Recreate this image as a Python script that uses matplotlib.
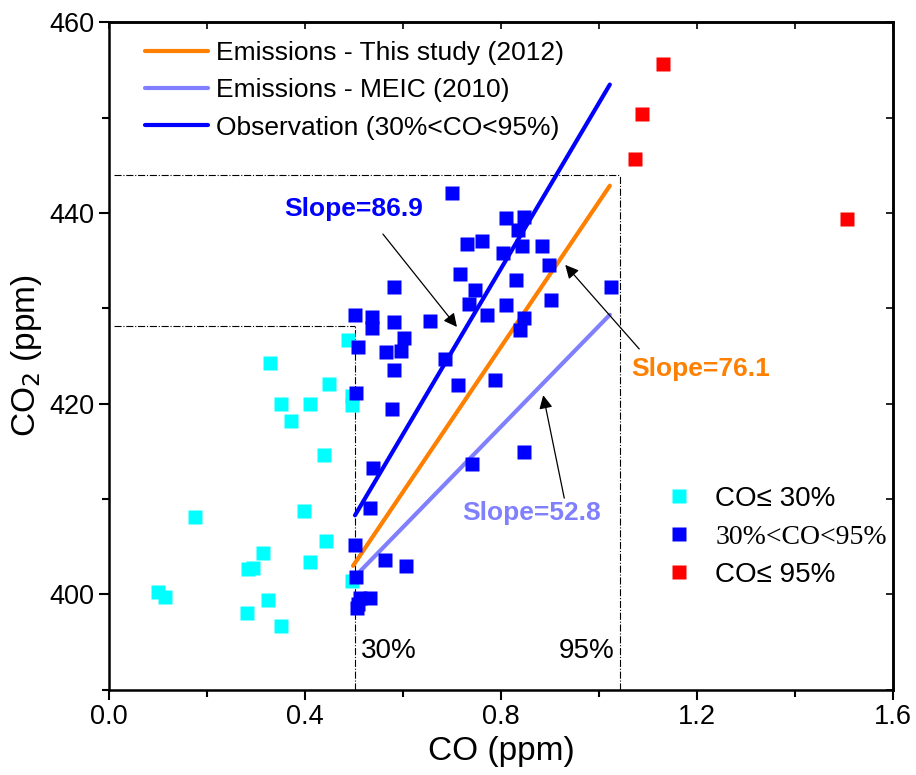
import matplotlib.pyplot as plt
from matplotlib.lines import Line2D

plt.rcParams['font.family'] = ['Liberation Sans', 'DejaVu Sans']

# CO / CO2 observations, split by CO percentile
low_co = [0.100, 0.114, 0.176, 0.282, 0.284, 0.294, 0.314, 0.324, 0.351, 0.329,
          0.351, 0.371, 0.410, 0.410, 0.398, 0.443, 0.439, 0.449, 0.488, 0.496,
          0.496, 0.496]
low_co2 = [400.3, 399.7, 408.1, 398.1, 402.7, 402.8, 404.3, 399.4, 396.7, 424.3,
           420.0, 418.2, 420.0, 403.4, 408.7, 405.6, 414.6, 422.1, 426.7, 420.8,
           419.9, 401.4]

mid_co = [0.700, 0.810, 0.847, 0.835, 0.731, 0.761, 0.804, 0.843, 0.884, 0.898,
          0.716, 0.831, 0.747, 1.024, 0.582, 0.902, 0.735, 0.810, 0.771, 0.502,
          0.537, 0.537, 0.582, 0.655, 0.847, 0.839, 0.602, 0.508, 0.565, 0.596,
          0.582, 0.686, 0.504, 0.578, 0.712, 0.788, 0.847, 0.741, 0.539, 0.533,
          0.502, 0.563, 0.606, 0.504, 0.533, 0.512, 0.508, 0.506]
mid_co2 = [442.1, 439.5, 439.6, 438.2, 436.8, 437.1, 435.8, 436.5, 436.5, 434.6,
           433.6, 433.0, 431.9, 432.2, 432.3, 430.9, 430.5, 430.4, 429.3, 429.3,
           429.1, 428.0, 428.6, 428.7, 429.0, 427.7, 426.9, 426.0, 425.4, 425.5,
           423.5, 424.7, 421.1, 419.4, 422.0, 422.5, 414.9, 413.7, 413.3, 409.1,
           405.2, 403.6, 403.0, 401.8, 399.6, 399.6, 399.0, 398.6]

high_co = [1.131, 1.088, 1.073, 1.506]
high_co2 = [455.6, 450.4, 445.7, 439.4]

# regression lines: label, colour, start x, end x, start y, slope
fit_labels = ['Emissions - This study (2012)', 'Emissions - MEIC (2010)',
              'Observation (30%<CO<95%)']
fit_colors = ['#FF8000', '#8080FF', '#0000FF']
fit_x0 = [0.498, 0.508, 0.502]
fit_x1 = [1.022, 1.022, 1.022]
fit_y0 = [403.0, 402.2, 408.3]
fit_slope = [76.1, 52.8, 86.9]

# percentile guides (CO value, CO2 value)
pct_labels = ['30%', '95%']
pct_co = [0.502, 1.043]
pct_co2 = [428.2, 444.0]

fig = plt.figure(figsize=(9.16, 7.75), dpi=100)
ax = fig.add_axes([0.119, 0.110, 0.856, 0.861])

# lines
for lab, c, x0, x1, y0, k in zip(fit_labels, fit_colors, fit_x0, fit_x1, fit_y0, fit_slope):
    ax.plot([x0, x1], [y0, y0 + k * (x1 - x0)], color=c, lw=3, solid_capstyle='round', zorder=2)

# guides
for co, co2 in zip(pct_co, pct_co2):
    ax.plot([co, co], [390, co2], color='black', lw=0.8, ls='-.', zorder=1)
    ax.plot([0.01, co], [co2, co2], color='black', lw=0.8, ls='-.', zorder=1)
ax.text(pct_co[0] + 0.012, 394.1, pct_labels[0], fontsize=20, ha='left', va='center')
ax.text(pct_co[1] - 0.012, 394.1, pct_labels[1], fontsize=20, ha='right', va='center')

# points
ms = 9.5
p1, = ax.plot(low_co, low_co2, 's', color='#00FFFF', ms=ms, mec='none', zorder=3)
p2, = ax.plot(mid_co, mid_co2, 's', color='#0000FF', ms=ms, mec='none', zorder=4)
p3, = ax.plot(high_co, high_co2, 's', color='#FF0000', ms=ms, mec='none', zorder=5)

# slope annotations
arrow = dict(arrowstyle='-|>', color='black', lw=0.9, mutation_scale=20, shrinkA=0, shrinkB=0)
ax.annotate('', xy=(0.710, 428.06), xytext=(0.559, 437.8), arrowprops=arrow)
ax.annotate('', xy=(0.931, 434.57), xytext=(1.082, 425.75), arrowprops=arrow)
ax.annotate('', xy=(0.886, 420.9), xytext=(0.929, 410.1), arrowprops=arrow)
ax.text(0.500, 440.4, 'Slope=%.1f' % fit_slope[2], color=fit_colors[2], fontsize=19,
        fontweight='bold', ha='center', va='center')
ax.text(1.208, 423.7, 'Slope=%.1f' % fit_slope[0], color=fit_colors[0], fontsize=19,
        fontweight='bold', ha='center', va='center')
ax.text(0.863, 408.5, 'Slope=%.1f' % fit_slope[1], color=fit_colors[1], fontsize=19,
        fontweight='bold', ha='center', va='center')

# legends
handles = [Line2D([], [], color=c, lw=3, solid_capstyle='round') for c in fit_colors]
leg1 = ax.legend(handles, fit_labels, loc='upper left', bbox_to_anchor=(0.046, 0.972),
                 frameon=False, fontsize=19, handlelength=2.4, handletextpad=0.3,
                 labelspacing=0.5, borderpad=0, borderaxespad=0)
ax.add_artist(leg1)
leg2 = ax.legend([p1, p2, p3], ['CO\u2264 30%', '30%<CO<95%', 'CO\u2264 95%'],
                 loc='upper left', bbox_to_anchor=(0.711, 0.306), frameon=False,
                 fontsize=20, handlelength=0.9, handletextpad=0.85, labelspacing=0.45,
                 borderpad=0, borderaxespad=0)
leg2.get_texts()[1].set_fontfamily(['Liberation Serif', 'DejaVu Serif'])

# axes
ax.set_xlim(0, 1.6)
ax.set_ylim(390, 460)
ax.set_xticks([0.0, 0.4, 0.8, 1.2, 1.6])
ax.set_xticks([0.2, 0.6, 1.0, 1.4], minor=True)
ax.set_yticks([400, 420, 440, 460])
ax.set_yticks([390, 410, 430, 450], minor=True)
ax.set_xticklabels(['0.0', '0.4', '0.8', '1.2', '1.6'])
ax.tick_params(which='both', direction='out', width=1.5, labelsize=19.5)
ax.tick_params(which='major', length=7)
ax.tick_params(which='minor', length=5)
for s in ax.spines.values():
    s.set_linewidth(1.8)

top = ax.secondary_xaxis('top')
top.set_xticks([0.0, 0.4, 0.8, 1.2, 1.6])
top.set_xticks([0.2, 0.6, 1.0, 1.4], minor=True)
top.tick_params(which='both', direction='in', width=1.2, labeltop=False, length=5)
right = ax.secondary_yaxis('right')
right.set_yticks([400, 420, 440, 460])
right.set_yticks([390, 410, 430, 450], minor=True)
right.tick_params(which='both', direction='in', width=1.2, labelright=False, length=5)
for a in (top, right):
    for s in a.spines.values():
        s.set_linewidth(1.8)

ax.set_xlabel('CO (ppm)', fontsize=24, labelpad=4)
ax.set_ylabel('CO$_2$ (ppm)', fontsize=24, labelpad=4)

fig.savefig('out.png', dpi=100)
